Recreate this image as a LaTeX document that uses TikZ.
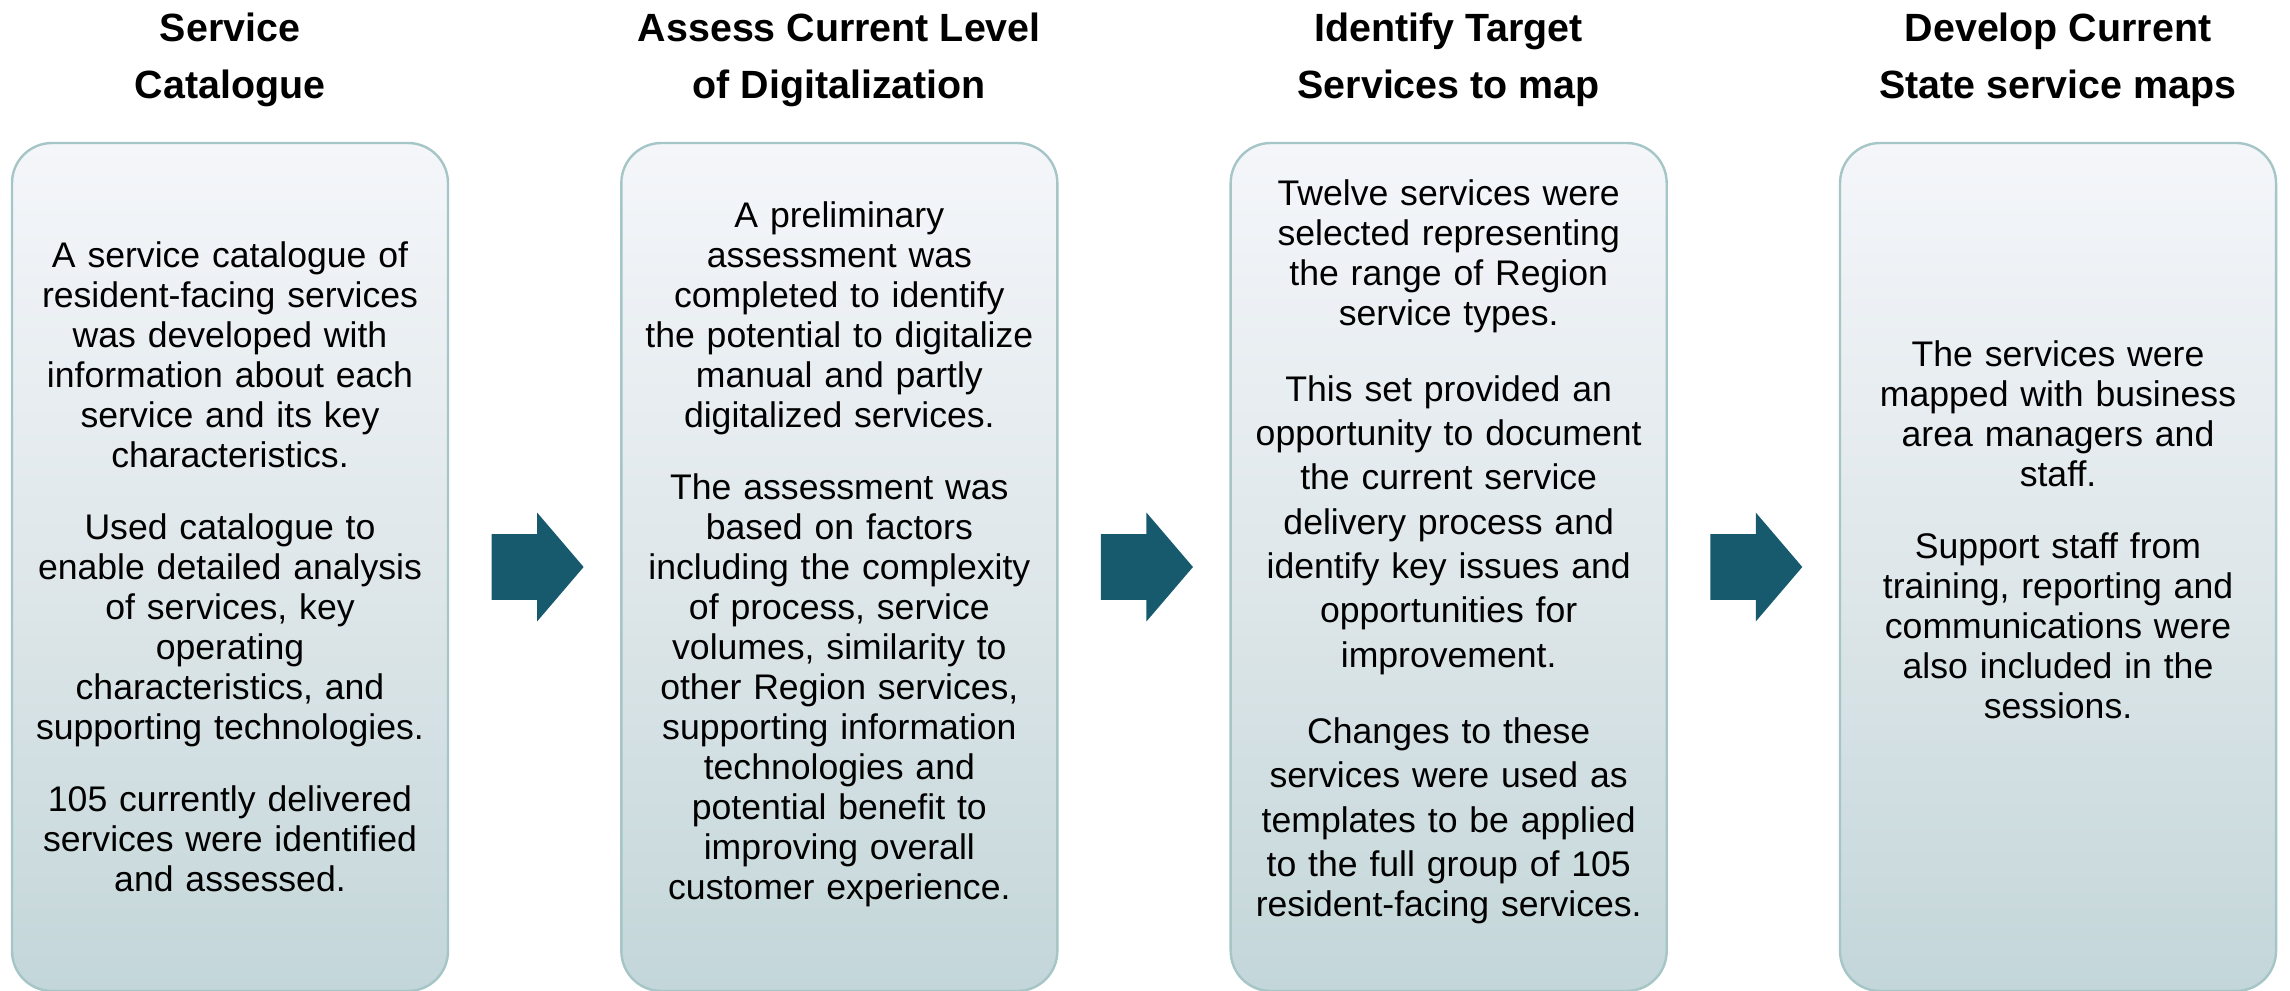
\documentclass[tikz,border=0pt]{standalone}
\usepackage{fontspec}
\setmainfont{Liberation Sans}
\usepackage{tikz}
\usetikzlibrary{shapes.arrows,positioning}
\setlength{\parindent}{0pt}
\setlength{\parskip}{0pt}
\definecolor{boxtop}{HTML}{F4F6FA}
\definecolor{boxmid}{HTML}{DFE7EA}
\definecolor{boxbottom}{HTML}{C3D6D9}
\definecolor{boxline}{HTML}{A5C5C6}
\definecolor{arrowblue}{HTML}{175A6E}
\tikzstyle{stage} = [rectangle, rounded corners=20pt, minimum width=218pt, minimum height=424pt, inner sep=0pt, draw=boxline, line width=1.2pt, top color=boxtop, bottom color=boxbottom, middle color=boxmid]
\tikzstyle{heading} = [align=center, inner sep=0pt, font=\fontsize{19.7}{28.5}\selectfont\bfseries]
\tikzstyle{bodytext} = [align=center, text width=214pt, inner sep=0pt, font=\fontsize{17.8}{20}\selectfont]
\tikzstyle{blockarrow} = [single arrow, fill=arrowblue, draw=none, inner xsep=0pt, inner ysep=16.25pt, minimum height=46pt, single arrow head extend=10.75pt, single arrow tip angle=99]
\newcommand{\blockgap}{\par\vspace{16pt}}

\begin{document}
\begin{tikzpicture}[x=0.5pt, y=-0.5pt]
\useasboundingbox (0,0) rectangle (2290,990);

\node(b1) [stage] at (230,567) {};
\node(b2) [stage, right=85.47pt of b1] {};
\node(b3) [stage, right=85.47pt of b2] {};
\node(b4) [stage, right=85.47pt of b3] {};

\node(h1) [heading, above=17.5pt of b1] {Service\\Catalogue};
\node(h2) [heading, above=17.5pt of b2] {Assess Current Level\\of Digitalization};
\node(h3) [heading, above=17.5pt of b3] {Identify Target\\Services to map};
\node(h4) [heading, above=17.5pt of b4] {Develop Current\\State service maps};

\node(a1) [blockarrow, right=21pt of b1] {};
\node(a2) [blockarrow, right=21pt of b2] {};
\node(a3) [blockarrow, right=21pt of b3] {};

\node(t1) [bodytext, yshift=0.25pt] at (b1) {A service catalogue of\\resident-facing services\\was developed with\\information about each\\service and its key\\characteristics.\blockgap
Used catalogue to\\enable detailed analysis\\of services, key\\operating\\characteristics, and\\supporting technologies.\blockgap
105 currently delivered\\services were identified\\and assessed.};

\node(t2) [bodytext, yshift=6.25pt] at (b2) {A preliminary\\assessment was\\completed to identify\\the potential to digitalize\\manual and partly\\digitalized services.\blockgap
The assessment was\\based on factors\\including the complexity\\of process, service\\volumes, similarity to\\other Region services,\\supporting information\\technologies and\\potential benefit to\\improving overall\\customer experience.};

\node(t3) [bodytext, yshift=7.75pt] at (b3) {Twelve services were\\selected representing\\the range of Region\\service types.\blockgap
\fontsize{17.8}{22.15}\selectfont This set provided an\\opportunity to document\\the current service\\delivery process and\\identify key issues and\\opportunities for\\improvement.\blockgap
Changes to these\\services were used as\\templates to be applied\\to the full group of 105\\resident-facing services.};

\node(t4) [bodytext, yshift=18.75pt] at (b4) {The services were\\mapped with business\\area managers and\\staff.\blockgap
Support staff from\\training, reporting and\\communications were\\also included in the\\sessions.};

\end{tikzpicture}
\end{document}
